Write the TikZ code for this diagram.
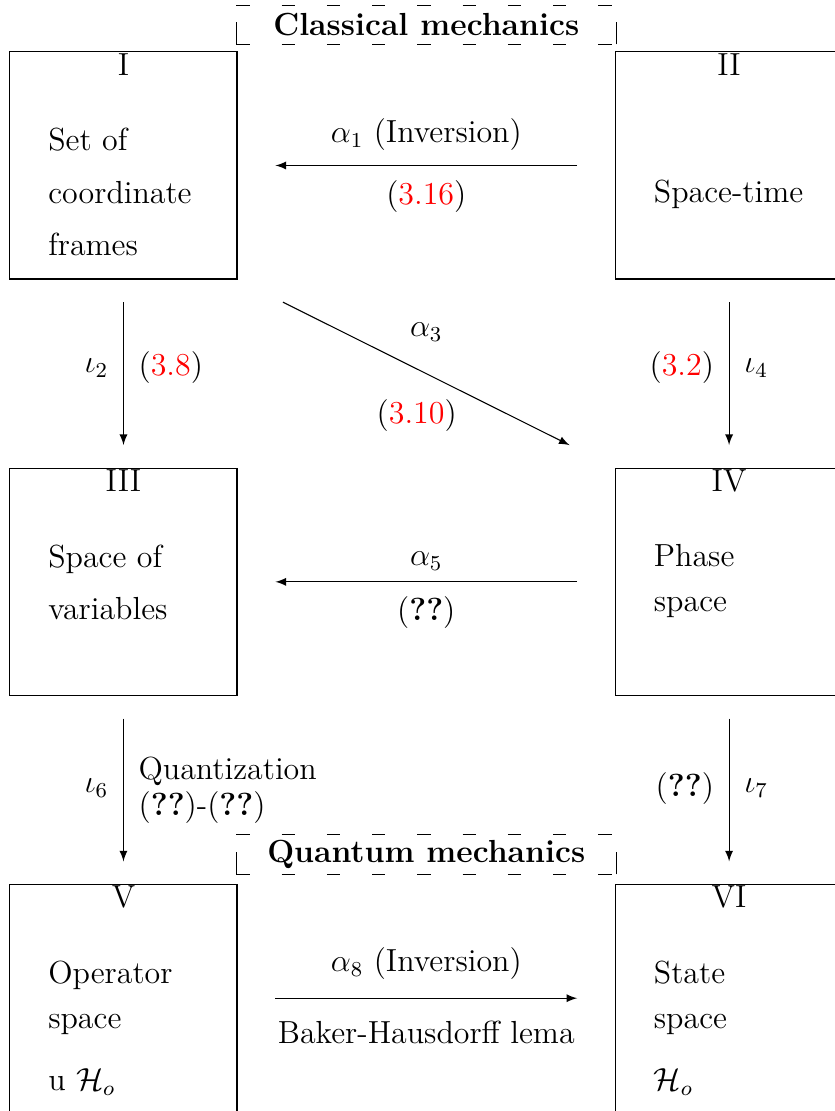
\documentclass[tikz,border=0pt,12pt]{standalone}
\usepackage{amsmath}
\usepackage{amssymb}
\usepackage{color}
\usetikzlibrary{arrows.meta}
\usetikzlibrary{calc}
\begin{document}
\begin{tikzpicture}[>=latex,
  stage/.style={draw, minimum size=3cm, inner sep=0pt},
  num/.style={anchor=north, inner sep=0.5pt},
  desc/.style={anchor=north west, align=left, inner sep=0pt},
  theory/.style={minimum width=5cm, minimum height=0.5cm, inner sep=2pt, font=\bfseries},
  frame/.style={dash pattern=on 5pt off 12pt},
  trim/.style={shorten >=#1, shorten <=#1},]
\useasboundingbox (-1.631,-12.49) rectangle (9.399,2.186);
\clip (-1.631,-12.49) rectangle (9.399,2.186);
% the six spaces
\node[stage] (I) at (0, 0) {};
\node[stage] (II) at (8, 0) {};
\node[stage] (III) at (0, -5.5) {};
\node[stage] (IV) at (8, -5.5) {};
\node[stage] (V) at (0, -11) {};
\node[stage] (VI) at (8, -11) {};
\node[num] (nI) at (I.north) {I};
\node[num] (nII) at (II.north) {II};
\node[num] (nIII) at (III.north) {III};
\node[num] (nIV) at (IV.north) {IV};
\node[num] (nV) at (V.north) {V};
\node[num] (nVI) at (VI.north) {VI};
\node[desc] (tI) at ($(I.center)+(-1,0.5)$) {Set of\\[5.3pt]coordinate\\[5.3pt]frames};
\node[desc, anchor=base west] (tII) at ($(II.center)+(-1,-0.495)$) {Space-time};
\node[desc] (tIII) at ($(III.center)+(-1,0.5)$) {Space of\\[5.3pt]variables};
\node[desc] (tIV) at ($(IV.center)+(-1,0.5)$) {Phase\\[2.3pt]space};
\node[desc] (tV) at ($(V.center)+(-1,0.5)$) {Operator\\[2.3pt]space\\[8.9pt]u $\mathcal{H}_o$};
\node[desc] (tVI) at ($(VI.center)+(-1,0.5)$) {State\\[2.3pt]space\\[8.9pt]$\mathcal{H}_o$};
% the two theories, dashed frames
\node[theory] (cm) at (4, 1.856) {Classical mechanics};
\node[theory] (qm) at (4, -9.10) {Quantum mechanics};
\foreach \t in {cm, qm} {
  \draw [frame] (\t.north west) -- (\t.north east) (\t.south west) -- (\t.south east);
  \draw (\t.south west) -- ++(0pt, 8.3pt) (\t.south east) -- ++(0pt, 8.3pt);
}
% maps
\draw [->, trim=0.5cm] (II)--(I) node[midway, above=1.5pt]{$\alpha_1$ (Inversion)} node[midway, below=1.5pt]{(\textcolor{red}{3.16})};
\draw [->, trim=0.3cm] (I)--(III) node[pos=0.47, left=1.5pt]{$\iota_2$} node[pos=0.47, right=1.5pt]{(\textcolor{red}{3.8})};
\draw [->, trim=0.67cm] (I.south east)--(IV.north west) node[midway, above=8pt]{$\alpha_3$} node[midway, below=5.5pt, xshift=-3.6pt]{(\textcolor{red}{3.10})};
\draw [->, trim=0.3cm] (II)--(IV) node[pos=0.47, left=1.5pt]{(\textcolor{red}{3.2})} node[pos=0.47, right=1.5pt]{$\iota_4$};
\draw [->, trim=0.5cm] (IV)--(III) node[midway, above]{$\alpha_5$} node[midway, below=1.5pt]{(\textbf{??})};
\draw [->, trim=0.3cm] (III)--(V) node[pos=0.49, left=1.5pt]{$\iota_6$} node[midway, right=1.5pt, align=left]{Quantization\\[-1.1pt](\textbf{??})-(\textbf{??})};
\draw [->, trim=0.3cm] (IV)--(VI) node[pos=0.49, left=1.5pt]{(\textbf{??})} node[pos=0.49, right=1.5pt]{$\iota_7$};
\draw [->, trim=0.5cm] (V)--(VI) node[midway, above=2.8pt]{$\alpha_8$ (Inversion)} node[midway, below=4.5pt]{Baker-Hausdorff lema};
\end{tikzpicture}
\end{document}
